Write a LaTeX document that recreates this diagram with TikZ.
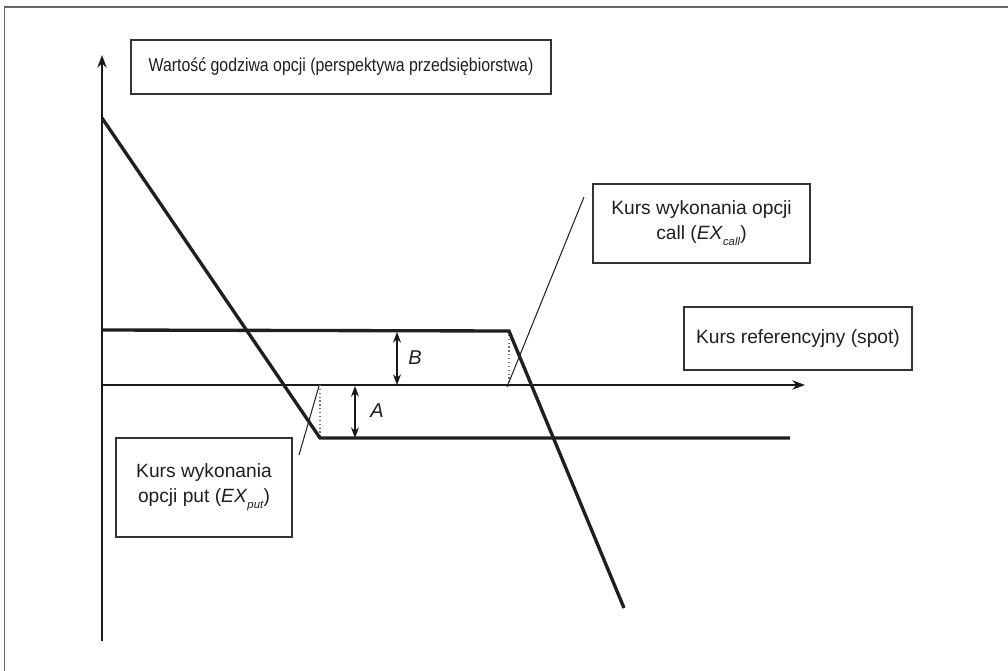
\documentclass[tikz,border=0pt]{standalone}
\usepackage{fontspec}
\setmainfont{Liberation Sans}
\newfontfamily\narrowsans[FakeStretch=0.85]{Liberation Sans}
\usetikzlibrary{arrows.meta}
\begin{document}
\begin{tikzpicture}[x=0.75pt,y=-0.75pt,
  frame/.style={draw=black!60,line width=1.3pt},
  axis/.style={draw=black!90,line width=1pt,-{Stealth[length=9.5pt,width=7pt]}},
  payoff/.style={draw=black!88,line width=2.5pt,line join=miter},
  guide/.style={draw=black!55,line width=0.9pt,dotted},
  pointer/.style={draw=black!85,line width=0.8pt},
  gap/.style={draw=black!90,line width=1pt,{Stealth[length=8pt,width=6pt]}-{Stealth[length=8pt,width=6pt]}},
  labelbox/.style={draw=black!80,line width=1pt,inner sep=0pt,align=center,
    font=\fontsize{14.4}{18.75}\selectfont,text=black!88},
  titlebox/.style={labelbox,font=\narrowsans\fontsize{14}{16}\selectfont},
  letter/.style={font=\fontsize{15}{17}\selectfont\itshape,text=black!88}]
\useasboundingbox (0,0) rectangle (1008,671);
% outer frame: left and top edges only
\draw[frame] (4.5,671) -- (4.5,7) -- (1008,7);

% axes
\coordinate (O) at (102,385);
\coordinate (ytop) at (102,55);
\coordinate (ybot) at (102,641);
\coordinate (xend) at (805,385);
\draw[axis] (ybot) -- (ytop);
\draw[axis] (O) -- (xend);

% put payoff
\coordinate (p0) at (102,118);
\coordinate (pk) at (320,438);
\coordinate (p1) at (790,438);
\coordinate (pk0) at (320,385);
% call payoff
\coordinate (c0) at (102,330);
\coordinate (ck) at (509,331);
\coordinate (c1) at (624,608);
\coordinate (ck0) at (509,385);

\draw[guide] (pk0) -- (pk);
\draw[guide] (ck) -- (ck0);
\draw[payoff] (p0) -- (pk) -- (p1);
\draw[payoff] (c0) -- (ck) -- (c1);

% premium gaps
\coordinate (bt) at (397,332);
\coordinate (bb) at (397,385);
\coordinate (at) at (355,386);
\coordinate (ab) at (355,438);
\draw[gap] (bt) -- (bb);
\draw[gap] (at) -- (ab);
\node[letter] (B) at (415,358) {B};
\node[letter] (A) at (377,411) {A};

% text boxes
\node[titlebox,minimum width=420*0.75pt,minimum height=54*0.75pt] (title) at (341,67)
  {Wartość godziwa opcji (perspektywa przedsiębiorstwa)};
\node[labelbox,minimum width=217*0.75pt,minimum height=79*0.75pt] (callbox) at (701.5,223.5)
  {Kurs wykonania opcji\\call (\textit{EX}\raisebox{-0.6ex}{\fontsize{8.5}{9}\selectfont\textit{call}})};
\node[labelbox,minimum width=228*0.75pt,minimum height=63*0.75pt] (spot) at (798,338.5)
  {Kurs referencyjny (spot)};
\node[labelbox,minimum width=176*0.75pt,minimum height=99*0.75pt] (putbox) at (204,487.5)
  {Kurs wykonania\\opcji put (\textit{EX}\raisebox{-0.6ex}{\fontsize{8.5}{9}\selectfont\textit{put}})};

% pointers to strike prices
\coordinate (cp0) at (507,387);
\coordinate (cp1) at (584,197);
\coordinate (pp0) at (319,386);
\coordinate (pp1) at (299,455);
\draw[pointer] (cp0) -- (cp1);
\draw[pointer] (pp0) -- (pp1);
\end{tikzpicture}
\end{document}
